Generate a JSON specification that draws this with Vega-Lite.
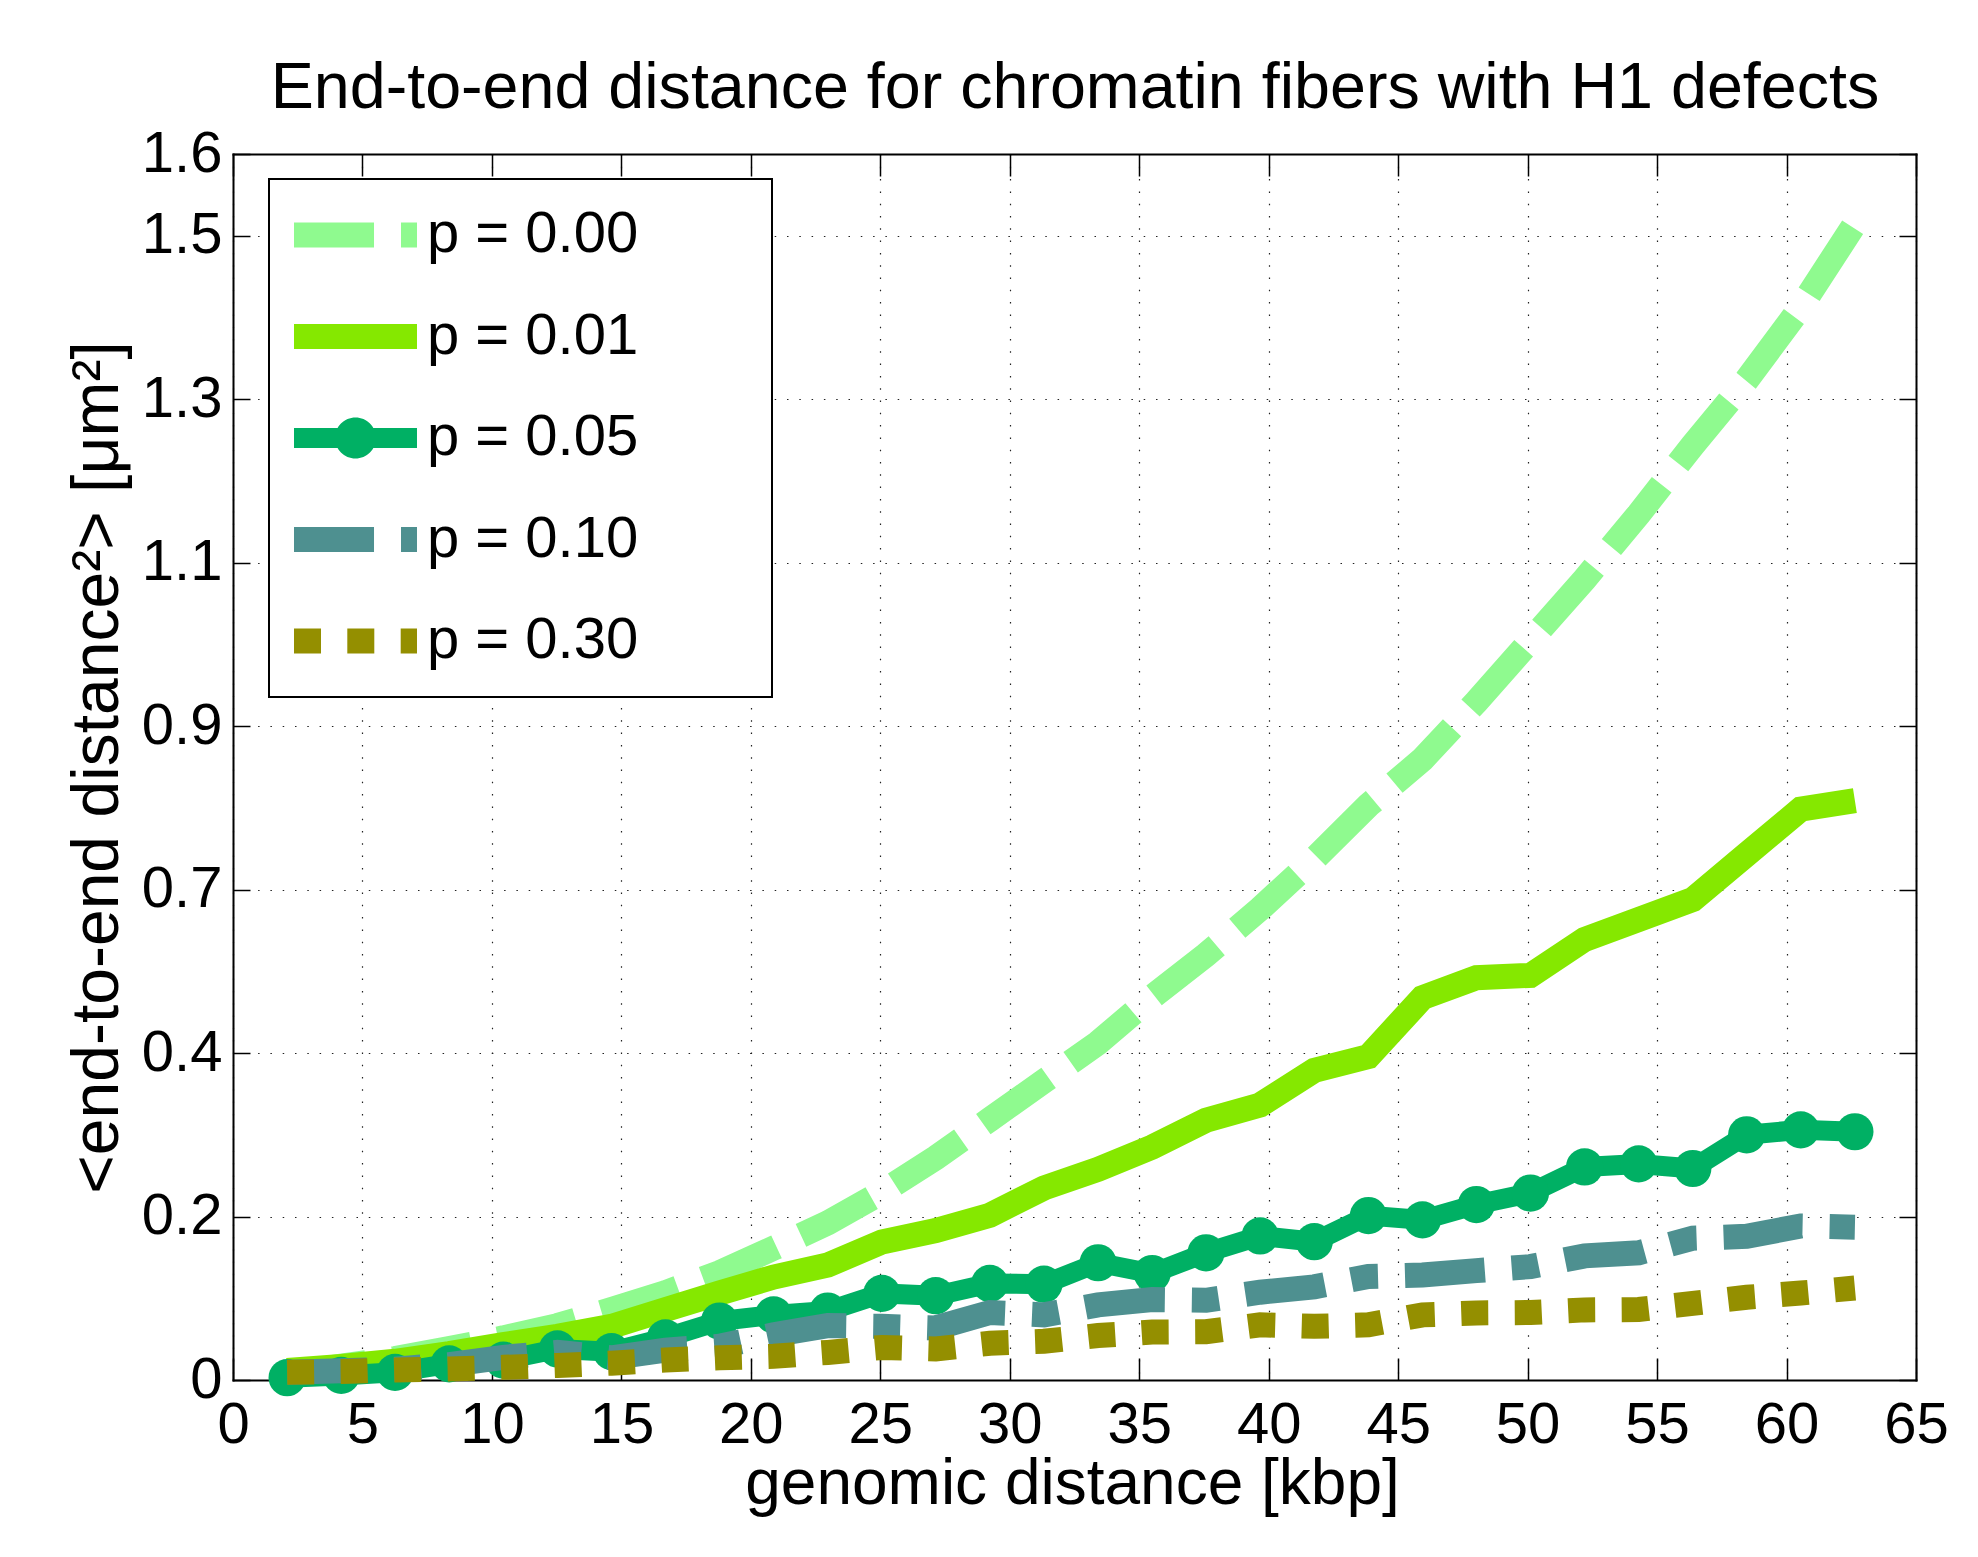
{
  "$schema": "https://vega.github.io/schema/vega-lite/v6.json",
  "width": 1683,
  "height": 1226,
  "autosize": {"type": "none"},
  "padding": {"left": 233, "top": 154, "right": 62, "bottom": 177},
  "background": "white",
  "config": {
    "view": {"stroke": null},
    "font": "Liberation Sans",
    "axis": {
      "labelFont": "Liberation Sans",
      "titleFont": "Liberation Sans",
      "labelColor": "black",
      "titleColor": "black",
      "titleFontWeight": "normal",
      "domainColor": "black",
      "domainWidth": 2,
      "domainCap": "square",
      "tickColor": "black",
      "tickWidth": 1.5,
      "labelFlush": false,
      "labelOverlap": false,
      "labelBound": false
    }
  },
  "data": {
    "values": [
      {"p": "0.00", "kbp": 2.09, "r2": 0.007}, {"p": "0.00", "kbp": 4.18, "r2": 0.018}, {"p": "0.00", "kbp": 6.26, "r2": 0.028},
      {"p": "0.00", "kbp": 8.35, "r2": 0.041}, {"p": "0.00", "kbp": 10.44, "r2": 0.055}, {"p": "0.00", "kbp": 12.53, "r2": 0.071},
      {"p": "0.00", "kbp": 14.62, "r2": 0.092}, {"p": "0.00", "kbp": 16.70, "r2": 0.114}, {"p": "0.00", "kbp": 18.79, "r2": 0.140},
      {"p": "0.00", "kbp": 20.88, "r2": 0.172}, {"p": "0.00", "kbp": 22.97, "r2": 0.205}, {"p": "0.00", "kbp": 25.06, "r2": 0.245},
      {"p": "0.00", "kbp": 27.14, "r2": 0.290}, {"p": "0.00", "kbp": 29.23, "r2": 0.340}, {"p": "0.00", "kbp": 31.32, "r2": 0.390},
      {"p": "0.00", "kbp": 33.41, "r2": 0.440}, {"p": "0.00", "kbp": 35.50, "r2": 0.500}, {"p": "0.00", "kbp": 37.58, "r2": 0.555},
      {"p": "0.00", "kbp": 39.67, "r2": 0.615}, {"p": "0.00", "kbp": 41.76, "r2": 0.680}, {"p": "0.00", "kbp": 43.85, "r2": 0.750},
      {"p": "0.00", "kbp": 45.94, "r2": 0.810}, {"p": "0.00", "kbp": 48.02, "r2": 0.885}, {"p": "0.00", "kbp": 50.11, "r2": 0.965},
      {"p": "0.00", "kbp": 52.20, "r2": 1.045}, {"p": "0.00", "kbp": 54.29, "r2": 1.130}, {"p": "0.00", "kbp": 56.38, "r2": 1.220},
      {"p": "0.00", "kbp": 58.46, "r2": 1.305}, {"p": "0.00", "kbp": 60.55, "r2": 1.400}, {"p": "0.00", "kbp": 62.64, "r2": 1.509},

      {"p": "0.01", "kbp": 2.09, "r2": 0.0126}, {"p": "0.01", "kbp": 4.18, "r2": 0.0178}, {"p": "0.01", "kbp": 6.26, "r2": 0.0244},
      {"p": "0.01", "kbp": 8.35, "r2": 0.0344}, {"p": "0.01", "kbp": 10.44, "r2": 0.0461}, {"p": "0.01", "kbp": 12.53, "r2": 0.057},
      {"p": "0.01", "kbp": 14.62, "r2": 0.070}, {"p": "0.01", "kbp": 16.70, "r2": 0.0918}, {"p": "0.01", "kbp": 18.79, "r2": 0.1135},
      {"p": "0.01", "kbp": 20.88, "r2": 0.1344}, {"p": "0.01", "kbp": 22.97, "r2": 0.150}, {"p": "0.01", "kbp": 25.06, "r2": 0.180},
      {"p": "0.01", "kbp": 27.14, "r2": 0.195}, {"p": "0.01", "kbp": 29.23, "r2": 0.215}, {"p": "0.01", "kbp": 31.32, "r2": 0.2505},
      {"p": "0.01", "kbp": 33.41, "r2": 0.275}, {"p": "0.01", "kbp": 35.50, "r2": 0.304}, {"p": "0.01", "kbp": 37.58, "r2": 0.339},
      {"p": "0.01", "kbp": 39.67, "r2": 0.359}, {"p": "0.01", "kbp": 41.76, "r2": 0.404}, {"p": "0.01", "kbp": 43.85, "r2": 0.422},
      {"p": "0.01", "kbp": 45.94, "r2": 0.499}, {"p": "0.01", "kbp": 48.02, "r2": 0.525}, {"p": "0.01", "kbp": 50.11, "r2": 0.528},
      {"p": "0.01", "kbp": 52.20, "r2": 0.575}, {"p": "0.01", "kbp": 54.29, "r2": 0.601}, {"p": "0.01", "kbp": 56.38, "r2": 0.627},
      {"p": "0.01", "kbp": 58.46, "r2": 0.686}, {"p": "0.01", "kbp": 60.55, "r2": 0.745}, {"p": "0.01", "kbp": 62.64, "r2": 0.756},

      {"p": "0.05", "kbp": 2.09, "r2": 0.003}, {"p": "0.05", "kbp": 4.18, "r2": 0.006}, {"p": "0.05", "kbp": 6.26, "r2": 0.010},
      {"p": "0.05", "kbp": 8.35, "r2": 0.021}, {"p": "0.05", "kbp": 10.44, "r2": 0.026}, {"p": "0.05", "kbp": 12.53, "r2": 0.0405},
      {"p": "0.05", "kbp": 14.62, "r2": 0.037}, {"p": "0.05", "kbp": 16.70, "r2": 0.055}, {"p": "0.05", "kbp": 18.79, "r2": 0.077},
      {"p": "0.05", "kbp": 20.88, "r2": 0.085}, {"p": "0.05", "kbp": 22.97, "r2": 0.090}, {"p": "0.05", "kbp": 25.06, "r2": 0.113},
      {"p": "0.05", "kbp": 27.14, "r2": 0.110}, {"p": "0.05", "kbp": 29.23, "r2": 0.126}, {"p": "0.05", "kbp": 31.32, "r2": 0.125},
      {"p": "0.05", "kbp": 33.41, "r2": 0.153}, {"p": "0.05", "kbp": 35.50, "r2": 0.139}, {"p": "0.05", "kbp": 37.58, "r2": 0.166},
      {"p": "0.05", "kbp": 39.67, "r2": 0.188}, {"p": "0.05", "kbp": 41.76, "r2": 0.1805}, {"p": "0.05", "kbp": 43.85, "r2": 0.2146},
      {"p": "0.05", "kbp": 45.94, "r2": 0.209}, {"p": "0.05", "kbp": 48.02, "r2": 0.229}, {"p": "0.05", "kbp": 50.11, "r2": 0.244},
      {"p": "0.05", "kbp": 52.20, "r2": 0.278}, {"p": "0.05", "kbp": 54.29, "r2": 0.282}, {"p": "0.05", "kbp": 56.38, "r2": 0.276},
      {"p": "0.05", "kbp": 58.46, "r2": 0.320}, {"p": "0.05", "kbp": 60.55, "r2": 0.3265}, {"p": "0.05", "kbp": 62.64, "r2": 0.324},

      {"p": "0.10", "kbp": 2.09, "r2": 0.010}, {"p": "0.10", "kbp": 4.18, "r2": 0.012}, {"p": "0.10", "kbp": 6.26, "r2": 0.014},
      {"p": "0.10", "kbp": 8.35, "r2": 0.020}, {"p": "0.10", "kbp": 10.44, "r2": 0.0296}, {"p": "0.10", "kbp": 12.53, "r2": 0.036},
      {"p": "0.10", "kbp": 14.62, "r2": 0.029}, {"p": "0.10", "kbp": 16.70, "r2": 0.039}, {"p": "0.10", "kbp": 18.79, "r2": 0.044},
      {"p": "0.10", "kbp": 20.88, "r2": 0.059}, {"p": "0.10", "kbp": 22.97, "r2": 0.071}, {"p": "0.10", "kbp": 25.06, "r2": 0.070},
      {"p": "0.10", "kbp": 27.14, "r2": 0.068}, {"p": "0.10", "kbp": 29.23, "r2": 0.088}, {"p": "0.10", "kbp": 31.32, "r2": 0.085},
      {"p": "0.10", "kbp": 33.41, "r2": 0.098}, {"p": "0.10", "kbp": 35.50, "r2": 0.105}, {"p": "0.10", "kbp": 37.58, "r2": 0.104},
      {"p": "0.10", "kbp": 39.67, "r2": 0.1146}, {"p": "0.10", "kbp": 41.76, "r2": 0.1216}, {"p": "0.10", "kbp": 43.85, "r2": 0.135},
      {"p": "0.10", "kbp": 45.94, "r2": 0.137}, {"p": "0.10", "kbp": 48.02, "r2": 0.1427}, {"p": "0.10", "kbp": 50.11, "r2": 0.148},
      {"p": "0.10", "kbp": 52.20, "r2": 0.162}, {"p": "0.10", "kbp": 54.29, "r2": 0.166}, {"p": "0.10", "kbp": 56.38, "r2": 0.185},
      {"p": "0.10", "kbp": 58.46, "r2": 0.1875}, {"p": "0.10", "kbp": 60.55, "r2": 0.201}, {"p": "0.10", "kbp": 62.64, "r2": 0.1995},

      {"p": "0.30", "kbp": 2.09, "r2": 0.010}, {"p": "0.30", "kbp": 4.18, "r2": 0.011}, {"p": "0.30", "kbp": 6.26, "r2": 0.013},
      {"p": "0.30", "kbp": 8.35, "r2": 0.0145}, {"p": "0.30", "kbp": 10.44, "r2": 0.0165}, {"p": "0.30", "kbp": 12.53, "r2": 0.019},
      {"p": "0.30", "kbp": 14.62, "r2": 0.022}, {"p": "0.30", "kbp": 16.70, "r2": 0.026}, {"p": "0.30", "kbp": 18.79, "r2": 0.029},
      {"p": "0.30", "kbp": 20.88, "r2": 0.031}, {"p": "0.30", "kbp": 22.97, "r2": 0.036}, {"p": "0.30", "kbp": 25.06, "r2": 0.0425},
      {"p": "0.30", "kbp": 27.14, "r2": 0.0405}, {"p": "0.30", "kbp": 29.23, "r2": 0.048}, {"p": "0.30", "kbp": 31.32, "r2": 0.0505},
      {"p": "0.30", "kbp": 33.41, "r2": 0.058}, {"p": "0.30", "kbp": 35.50, "r2": 0.0625}, {"p": "0.30", "kbp": 37.58, "r2": 0.063},
      {"p": "0.30", "kbp": 39.67, "r2": 0.072}, {"p": "0.30", "kbp": 41.76, "r2": 0.070}, {"p": "0.30", "kbp": 43.85, "r2": 0.072},
      {"p": "0.30", "kbp": 45.94, "r2": 0.085}, {"p": "0.30", "kbp": 48.02, "r2": 0.0875}, {"p": "0.30", "kbp": 50.11, "r2": 0.088},
      {"p": "0.30", "kbp": 52.20, "r2": 0.0915}, {"p": "0.30", "kbp": 54.29, "r2": 0.092}, {"p": "0.30", "kbp": 56.38, "r2": 0.100},
      {"p": "0.30", "kbp": 58.46, "r2": 0.108}, {"p": "0.30", "kbp": 60.55, "r2": 0.1135}, {"p": "0.30", "kbp": 62.64, "r2": 0.120}
    ]
  },
  "resolve": {"axis": {"x": "independent", "y": "independent"}},
  "layer": [
    {
      "transform": [{"filter": "datum.p == '0.00'"}],
      "mark": {"type": "line", "color": "#8ffa8f", "strokeWidth": 25, "strokeDash": [80, 27]},
      "encoding": {
        "x": {
          "field": "kbp", "type": "quantitative",
          "scale": {"domain": [0, 65], "nice": false, "zero": false},
          "axis": {
            "orient": "bottom",
            "values": [0, 5, 10, 15, 20, 25, 30, 35, 40, 45, 50, 55, 60, 65],
            "format": "d",
            "tickSize": -22,
            "labelPadding": 38,
            "labelFontSize": 58,
            "grid": true,
            "gridDash": [1.5, 10.8],
            "gridColor": "#222222",
            "gridWidth": 1.2,
            "title": "genomic distance [kbp]",
            "titleFontSize": 64,
            "titleX": 839,
            "titleY": 123,
            "titleBaseline": "alphabetic",
            "titleAlign": "center"
          }
        },
        "y": {
          "field": "r2", "type": "quantitative",
          "scale": {"domain": [0, 1.6], "nice": false, "zero": true},
          "axis": {
            "orient": "left",
            "values": [0, 0.2133333, 0.4266667, 0.64, 0.8533333, 1.0666667, 1.28, 1.4933333, 1.6],
            "labelExpr": "datum.value > 1.55 ? '1.6' : ['0', '0.2', '0.4', '0.7', '0.9', '1.1', '1.3', '1.5'][round(datum.value / 0.2133333)]",
            "tickSize": -17,
            "labelPadding": 28,
            "labelFontSize": 58,
            "grid": true,
            "gridDash": [1.5, 10.8],
            "gridColor": "#222222",
            "gridWidth": 1.2,
            "title": "<end-to-end distance²> [μm²]",
            "titleFontSize": 66,
            "titleAngle": 270,
            "titleX": -116,
            "titleY": 613,
            "titleBaseline": "alphabetic",
            "titleAlign": "center"
          }
        }
      }
    },
    {
      "transform": [{"filter": "datum.p == '0.01'"}],
      "mark": {"type": "line", "color": "#85e800", "strokeWidth": 25},
      "encoding": {
        "x": {"field": "kbp", "type": "quantitative", "axis": null},
        "y": {"field": "r2", "type": "quantitative", "axis": null}
      }
    },
    {
      "transform": [{"filter": "datum.p == '0.05'"}],
      "mark": {"type": "line", "color": "#00b064", "strokeWidth": 20},
      "encoding": {
        "x": {"field": "kbp", "type": "quantitative", "axis": null},
        "y": {"field": "r2", "type": "quantitative", "axis": null}
      }
    },
    {
      "transform": [{"filter": "datum.p == '0.05'"}],
      "mark": {"type": "point", "shape": "circle", "filled": true, "color": "#00b064", "opacity": 1, "size": 1385},
      "encoding": {
        "x": {"field": "kbp", "type": "quantitative", "axis": null},
        "y": {"field": "r2", "type": "quantitative", "axis": null}
      }
    },
    {
      "transform": [{"filter": "datum.p == '0.10'"}],
      "mark": {"type": "line", "color": "#4e9090", "strokeWidth": 25, "strokeDash": [80, 27, 27, 27]},
      "encoding": {
        "x": {"field": "kbp", "type": "quantitative", "axis": null},
        "y": {"field": "r2", "type": "quantitative", "axis": null}
      }
    },
    {
      "transform": [{"filter": "datum.p == '0.30'"}],
      "mark": {"type": "line", "color": "#948f00", "strokeWidth": 25, "strokeDash": [27, 26.5]},
      "encoding": {
        "x": {"field": "kbp", "type": "quantitative", "axis": null},
        "y": {"field": "r2", "type": "quantitative", "axis": null}
      }
    },
    {
      "mark": {"type": "point", "filled": true, "opacity": 0},
      "encoding": {
        "x": {
          "field": "kbp", "type": "quantitative",
          "axis": {
            "orient": "top",
            "values": [0, 5, 10, 15, 20, 25, 30, 35, 40, 45, 50, 55, 60, 65],
            "tickSize": -22,
            "labels": false,
            "grid": false,
            "title": "End-to-end distance for chromatin fibers with H1 defects",
            "titleFontSize": 64.6,
            "titleX": 841.5,
            "titleY": -47,
            "titleBaseline": "alphabetic",
            "titleAlign": "center"
          }
        },
        "y": {
          "field": "r2", "type": "quantitative",
          "axis": {
            "orient": "right",
            "values": [0, 0.2133333, 0.4266667, 0.64, 0.8533333, 1.0666667, 1.28, 1.4933333, 1.6],
            "tickSize": -17,
            "labels": false,
            "grid": false,
            "title": null
          }
        },
        "color": {
          "field": "p", "type": "nominal",
          "scale": {
            "domain": ["0.00", "0.01", "0.05", "0.10", "0.30"],
            "range": ["#8ffa8f", "#85e800", "#00b064", "#4e9090", "#948f00"]
          },
          "legend": {
            "orient": "none", "legendX": 36, "legendY": 25, "direction": "vertical",
            "title": null, "padding": 27, "rowPadding": 43.5,
            "symbolSize": 3364, "symbolOffset": -2, "symbolOpacity": 1, "symbolStrokeWidth": 0,
            "labelOffset": 75, "labelFontSize": 58, "labelFont": "Liberation Sans", "labelColor": "black", "labelLimit": 600,
            "labelExpr": "'p = ' + datum.label",
            "strokeColor": "black", "fillColor": "white",
            "encode": {"legend": {"update": {"strokeWidth": {"value": 2}}}}
          }
        },
        "shape": {
          "field": "p", "type": "nominal",
          "scale": {
            "domain": ["0.00", "0.01", "0.05", "0.10", "0.30"],
            "range": [
              "M-1,-0.431H1.759V0.431H-1Z M2.69,-0.431H3.241V0.431H2.69Z M14.55,0L14.55,0Z",
              "M-1,-0.431H3.241V0.431H-1Z M14.55,0L14.55,0Z",
              "M-1,-0.345H3.241V0.345H-1Z M0.414,0A0.707,0.707 0 1,1 1.828,0A0.707,0.707 0 1,1 0.414,0Z M14.55,0L14.55,0Z",
              "M-1,-0.431H1.759V0.431H-1Z M2.69,-0.431H3.241V0.431H2.69Z M14.55,0L14.55,0Z",
              "M-1,-0.431H-0.069V0.431H-1Z M0.838,-0.431H1.769V0.431H0.838Z M2.679,-0.431H3.241V0.431H2.679Z M14.55,0L14.55,0Z"
            ]
          },
          "legend": {
            "orient": "none", "legendX": 36, "legendY": 25, "direction": "vertical",
            "title": null, "padding": 27, "rowPadding": 43.5,
            "symbolSize": 3364, "symbolOffset": -2, "symbolOpacity": 1, "symbolStrokeWidth": 0,
            "labelOffset": 75, "labelFontSize": 58, "labelFont": "Liberation Sans", "labelColor": "black", "labelLimit": 600,
            "labelExpr": "'p = ' + datum.label",
            "strokeColor": "black", "fillColor": "white",
            "encode": {"legend": {"update": {"strokeWidth": {"value": 2}}}}
          }
        }
      }
    }
  ]
}
